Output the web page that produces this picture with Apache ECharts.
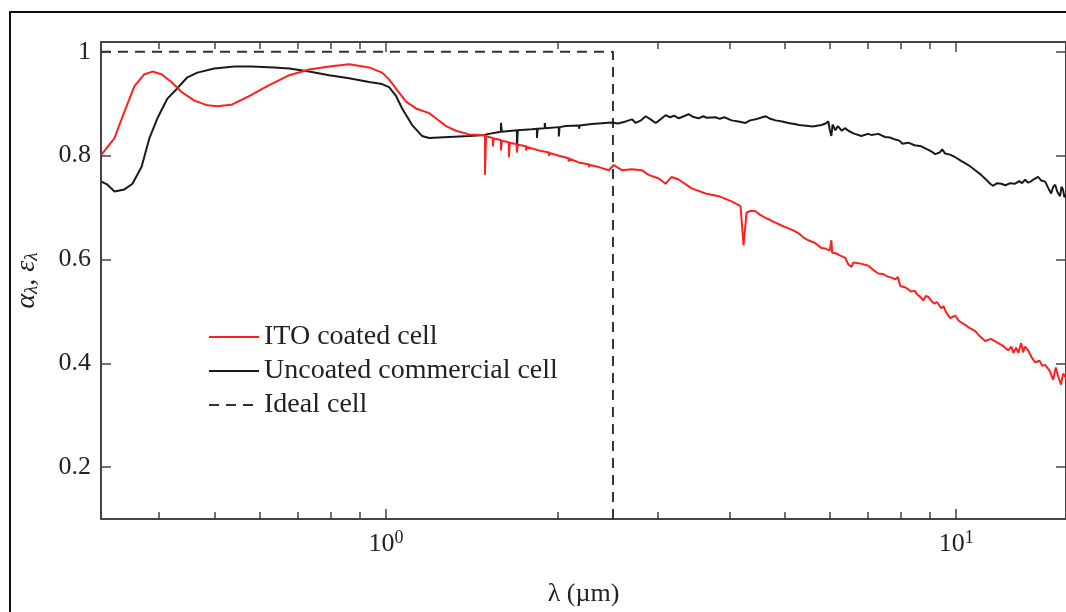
<!DOCTYPE html>
<html>
<head>
<meta charset="utf-8">
<script src="https://cdn.jsdelivr.net/npm/echarts@6/dist/echarts.min.js"></script>
<style>
  html, body { margin: 0; padding: 0; background: #fff; }
  #chart { width: 1066px; height: 612px; }
</style>
</head>
<body>
<div id="chart"></div>
<script>
// wavelength (um) / absorptance pairs
var itoCell = [
  [0.3168, 0.802], [0.3339, 0.834], [0.3476, 0.885], [0.3619, 0.934], [0.3768, 0.957],
  [0.3892, 0.962], [0.4036, 0.957], [0.4202, 0.942], [0.4375, 0.923], [0.4610, 0.906],
  [0.4859, 0.897], [0.5058, 0.895], [0.5353, 0.898], [0.5708, 0.913], [0.6189, 0.934],
  [0.6763, 0.955], [0.7329, 0.966], [0.7945, 0.972], [0.8614, 0.976], [0.9337, 0.970],
  [0.984, 0.960], [1.012, 0.947], [1.041, 0.929], [1.084, 0.904], [1.128, 0.891],
  [1.190, 0.882], [1.223, 0.872], [1.274, 0.857], [1.326, 0.848], [1.398, 0.841],
  [1.473, 0.840], [1.491, 0.839], [1.491, 0.763], [1.497, 0.838], [1.515, 0.836],
  [1.539, 0.834], [1.539, 0.818], [1.545, 0.833], [1.590, 0.830], [1.590, 0.810],
  [1.596, 0.829], [1.642, 0.826], [1.642, 0.797], [1.648, 0.825], [1.696, 0.822],
  [1.696, 0.806], [1.702, 0.821], [1.760, 0.818], [1.760, 0.810], [1.766, 0.817],
  [1.854, 0.810], [1.930, 0.806], [1.930, 0.800], [1.936, 0.805], [2.009, 0.800],
  [2.090, 0.795], [2.090, 0.789], [2.096, 0.794], [2.178, 0.787], [2.270, 0.783],
  [2.270, 0.778], [2.276, 0.782], [2.361, 0.778], [2.458, 0.772], [2.508, 0.782],
  [2.590, 0.772], [2.697, 0.774], [2.808, 0.772], [2.888, 0.763], [3.007, 0.756],
  [3.093, 0.746], [3.168, 0.759], [3.260, 0.754], [3.435, 0.737], [3.634, 0.727],
  [3.831, 0.722], [4.036, 0.712], [4.185, 0.703], [4.236, 0.627], [4.288, 0.690],
  [4.36, 0.694], [4.446, 0.693], [4.53, 0.686], [4.629, 0.680], [4.72, 0.676],
  [4.819, 0.671], [4.95, 0.665], [5.080, 0.660], [5.2, 0.655], [5.300, 0.650],
  [5.4, 0.642], [5.505, 0.637], [5.650, 0.632], [5.801, 0.622], [5.9, 0.621],
  [6.000, 0.617], [6.040, 0.637], [6.06, 0.613], [6.15, 0.612], [6.250, 0.608],
  [6.391, 0.603], [6.470, 0.590], [6.548, 0.586], [6.600, 0.594], [6.8, 0.592],
  [7.015, 0.588], [7.150, 0.580], [7.302, 0.573], [7.45, 0.572], [7.550, 0.568],
  [7.7, 0.565], [7.820, 0.562], [7.9, 0.566], [7.979, 0.549], [8.150, 0.546],
  [8.342, 0.538], [8.45, 0.540], [8.550, 0.532], [8.65, 0.528], [8.755, 0.521],
  [8.85, 0.530], [8.933, 0.528], [9.05, 0.520], [9.150, 0.515], [9.25, 0.518],
  [9.413, 0.506], [9.5, 0.510], [9.600, 0.498], [9.761, 0.487], [9.960, 0.492],
  [10.1, 0.482], [10.37, 0.474], [10.55, 0.468], [10.80, 0.462], [11.0, 0.452],
  [11.24, 0.443], [11.50, 0.447], [11.85, 0.439], [12.10, 0.433], [12.33, 0.425],
  [12.50, 0.432], [12.6, 0.420], [12.74, 0.430], [12.85, 0.420], [13.00, 0.439],
  [13.10, 0.421], [13.2, 0.432], [13.37, 0.425], [13.55, 0.412], [13.75, 0.402],
  [14.00, 0.405], [14.15, 0.395], [14.32, 0.397], [14.60, 0.385], [14.79, 0.368],
  [14.95, 0.392], [15.09, 0.375], [15.27, 0.359], [15.4, 0.380], [15.58, 0.372]
];
var uncoatedCell = [
  [0.3168, 0.750], [0.3246, 0.744], [0.3339, 0.731], [0.3476, 0.735], [0.3590, 0.746],
  [0.3724, 0.778], [0.3845, 0.834], [0.3971, 0.872], [0.4135, 0.910], [0.4305, 0.930],
  [0.4482, 0.951], [0.4667, 0.960], [0.4996, 0.968], [0.5418, 0.972], [0.5801, 0.972],
  [0.6366, 0.970], [0.6763, 0.968], [0.7329, 0.962], [0.7945, 0.955], [0.8614, 0.949],
  [0.9337, 0.942], [0.984, 0.938], [1.012, 0.932], [1.041, 0.915], [1.067, 0.891],
  [1.111, 0.859], [1.156, 0.838], [1.190, 0.834], [1.289, 0.836], [1.398, 0.838],
  [1.491, 0.840], [1.491, 0.816], [1.497, 0.841], [1.590, 0.846], [1.590, 0.863],
  [1.596, 0.846], [1.696, 0.849], [1.696, 0.810], [1.702, 0.849], [1.802, 0.851],
  [1.839, 0.852], [1.839, 0.834], [1.845, 0.852], [1.898, 0.853], [1.898, 0.863],
  [1.904, 0.853], [2.009, 0.855], [2.009, 0.837], [2.015, 0.855], [2.066, 0.857],
  [2.180, 0.858], [2.180, 0.852], [2.186, 0.858], [2.295, 0.861], [2.488, 0.864],
  [2.55, 0.862], [2.633, 0.866], [2.70, 0.870], [2.741, 0.863], [2.80, 0.868],
  [2.853, 0.876], [2.91, 0.870], [2.971, 0.863], [3.03, 0.870], [3.093, 0.878],
  [3.15, 0.874], [3.20, 0.877], [3.260, 0.872], [3.33, 0.876], [3.394, 0.880],
  [3.45, 0.875], [3.533, 0.872], [3.60, 0.876], [3.65, 0.873], [3.784, 0.874],
  [3.85, 0.871], [3.92, 0.874], [4.036, 0.868], [4.15, 0.866], [4.271, 0.863],
  [4.35, 0.868], [4.446, 0.870], [4.54, 0.873], [4.629, 0.876], [4.72, 0.871],
  [4.819, 0.868], [4.95, 0.866], [5.080, 0.863], [5.2, 0.861], [5.3, 0.859],
  [5.505, 0.857], [5.6, 0.856], [5.801, 0.859], [5.9, 0.862], [5.967, 0.866],
  [6.00, 0.850], [6.040, 0.838], [6.07, 0.860], [6.139, 0.849], [6.2, 0.857],
  [6.300, 0.848], [6.38, 0.853], [6.470, 0.848], [6.6, 0.843], [6.818, 0.838],
  [7.0, 0.842], [7.1, 0.840], [7.302, 0.842], [7.5, 0.836], [7.65, 0.835],
  [7.820, 0.831], [7.95, 0.829], [8.05, 0.823], [8.241, 0.825], [8.45, 0.820],
  [8.683, 0.818], [8.9, 0.812], [9.05, 0.808], [9.189, 0.803], [9.35, 0.806],
  [9.45, 0.812], [9.566, 0.804], [9.75, 0.802], [9.960, 0.797], [10.2, 0.790],
  [10.50, 0.782], [10.8, 0.772], [11.06, 0.763], [11.3, 0.753], [11.47, 0.746],
  [11.6, 0.742], [11.8, 0.747], [11.99, 0.746], [12.2, 0.743], [12.45, 0.747],
  [12.69, 0.746], [12.9, 0.751], [13.05, 0.747], [13.21, 0.754], [13.35, 0.748],
  [13.50, 0.750], [13.7, 0.755], [13.92, 0.759], [14.1, 0.752], [14.32, 0.750],
  [14.5, 0.738], [14.67, 0.727], [14.8, 0.740], [14.91, 0.744], [15.05, 0.730],
  [15.21, 0.722], [15.3, 0.740], [15.39, 0.735], [15.48, 0.720], [15.58, 0.725]
];
var idealCell = [[0.3162, 1], [2.5, 1], [2.5, 0]];

var majorTicksX = [1, 10];
var minorTicksX = [0.4, 0.5, 0.6, 0.7, 0.8, 0.9, 2, 3, 4, 5, 6, 7, 8, 9];
var ticksY = [0.2, 0.4, 0.6, 0.8, 1];

var xMin = 0.3162, xMax = 15.58;
var yMin = 0.1, yMax = 1.019;

var serif = 'Liberation Serif';
var axisColor = '#444';

function xAxisBase(pos, ticks, len, showLine) {
	return {
		type: 'log',
		logBase: 10,
		min: xMin,
		max: xMax,
		position: pos,
		axisLine: { show: showLine, onZero: false, lineStyle: { color: axisColor, width: 2 } },
		axisTick: { show: true, inside: true, length: len, customValues: ticks, lineStyle: { color: axisColor, width: 1.5 } },
		axisLabel: { show: false },
		splitLine: { show: false },
		minorTick: { show: false }
	};
}

var chart = echarts.init(document.getElementById('chart'));

var xBottom = xAxisBase('bottom', majorTicksX, 10, true);
xBottom.axisLabel = {
	show: true,
	customValues: majorTicksX,
	margin: 10,
	fontFamily: serif,
	fontSize: 26,
	color: '#222',
	formatter: function (v) {
		return '10{sup|' + Math.round(Math.log10(v)) + '}';
	},
	rich: {
		sup: { fontFamily: serif, fontSize: 18, color: '#222', padding: [0, 0, 12, 0] }
	}
};
xBottom.name = 'λ (µm)';
xBottom.nameLocation = 'middle';
xBottom.nameGap = 62;
xBottom.nameTextStyle = { fontFamily: serif, fontSize: 26, color: '#222' };

var option = {
	animation: false,
	backgroundColor: '#fff',
	graphic: [{
		type: 'rect',
		shape: { x: 10, y: 12, width: 1200, height: 700 },
		style: { fill: 'none', stroke: '#111', lineWidth: 2 },
		silent: true
	}],
	grid: { left: 101, top: 42, width: 967, height: 487 },
	legend: {
		orient: 'vertical',
		left: 203,
		top: 317,
		itemWidth: 50,
		itemHeight: 14,
		itemGap: 4,
		itemStyle: { opacity: 0 },
		textStyle: { fontFamily: serif, fontSize: 28, color: '#222', lineHeight: 30 },
		data: ['ITO coated cell', 'Uncoated commercial cell', 'Ideal cell']
	},
	xAxis: [
		xBottom,
		xAxisBase('bottom', minorTicksX, 7, false),
		xAxisBase('top', majorTicksX, 10, true),
		xAxisBase('top', minorTicksX, 7, false)
	],
	yAxis: [{
		type: 'value',
		min: yMin,
		max: yMax,
		position: 'left',
		axisLine: { show: true, onZero: false, lineStyle: { color: axisColor, width: 2 } },
		axisTick: { show: true, inside: true, length: 10, customValues: ticksY, lineStyle: { color: axisColor, width: 1.5 } },
		axisLabel: {
			customValues: ticksY,
			margin: 10,
			fontFamily: serif,
			fontSize: 26,
			color: '#222',
			formatter: function (v) { return v === 1 ? '1' : v.toFixed(1); }
		},
		splitLine: { show: false },
		name: 'α{sub|λ}, ε{sub|λ}',
		nameLocation: 'middle',
		nameGap: 60,
		nameTextStyle: {
			fontFamily: serif, fontSize: 28, fontStyle: 'italic', color: '#222',
			rich: { sub: { fontFamily: serif, fontSize: 19, fontStyle: 'italic', color: '#222', padding: [10, 0, 0, 0] } }
		}
	}, {
		type: 'value',
		min: yMin,
		max: yMax,
		position: 'right',
		axisLine: { show: true, onZero: false, lineStyle: { color: axisColor, width: 2 } },
		axisTick: { show: true, inside: true, length: 10, customValues: ticksY, lineStyle: { color: axisColor, width: 1.5 } },
		axisLabel: { show: false },
		splitLine: { show: false }
	}],
	series: [{
		name: 'ITO coated cell',
		type: 'line',
		data: itoCell,
		showSymbol: false,
		symbol: 'none',
		clip: true,
		lineStyle: { color: '#ff1f1f', width: 2 },
		itemStyle: { color: '#ff1f1f' },
		z: 3
	}, {
		name: 'Uncoated commercial cell',
		type: 'line',
		data: uncoatedCell,
		showSymbol: false,
		symbol: 'none',
		clip: true,
		lineStyle: { color: '#1a1a1a', width: 2 },
		itemStyle: { color: '#1a1a1a' },
		z: 2
	}, {
		name: 'Ideal cell',
		type: 'line',
		data: idealCell,
		showSymbol: false,
		symbol: 'none',
		clip: true,
		lineStyle: { color: '#333', width: 2, type: [10, 7] },
		itemStyle: { color: '#333' },
		z: 1
	}]
};

chart.setOption(option);
</script>
</body>
</html>
